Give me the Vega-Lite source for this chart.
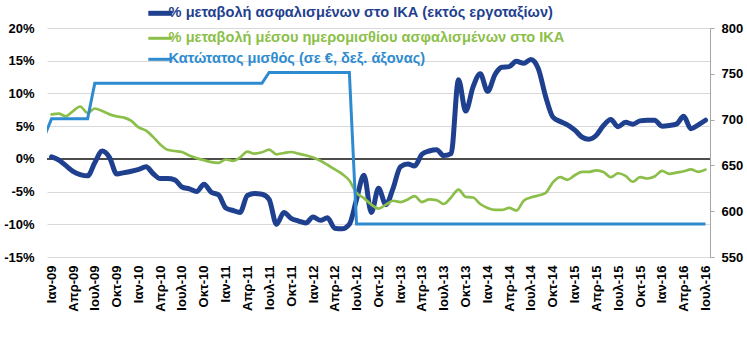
{
  "$schema": "https://vega.github.io/schema/vega-lite/v6.json",
  "width": 663,
  "height": 229,
  "autosize": "none",
  "padding": {"left": 47, "top": 28, "right": 37, "bottom": 97},
  "background": "white",
  "config": {"font": "Liberation Sans", "view": {"stroke": null}},
  "data": {"values": [
    {"d": "2008-12-01", "m": 681},
    {"d": "2009-01-01", "a": 0.3, "b": 6.8, "m": 701},
    {"d": "2009-02-01", "a": -0.2, "b": 6.9, "m": 701},
    {"d": "2009-03-01", "a": -1.0, "b": 6.5, "m": 701},
    {"d": "2009-04-01", "a": -1.9, "b": 7.3, "m": 701},
    {"d": "2009-05-01", "a": -2.4, "b": 8.0, "m": 701},
    {"d": "2009-06-01", "a": -2.6, "b": 7.0, "m": 701},
    {"d": "2009-07-01", "a": -0.6, "b": 7.7, "m": 739.56},
    {"d": "2009-08-01", "a": 1.2, "b": 7.3, "m": 739.56},
    {"d": "2009-09-01", "a": 0.2, "b": 6.8, "m": 739.56},
    {"d": "2009-10-01", "a": -2.3, "b": 6.5, "m": 739.56},
    {"d": "2009-11-01", "a": -2.1, "b": 6.3, "m": 739.56},
    {"d": "2009-12-01", "a": -1.9, "b": 5.8, "m": 739.56},
    {"d": "2010-01-01", "a": -1.6, "b": 4.8, "m": 739.56},
    {"d": "2010-02-01", "a": -1.2, "b": 4.3, "m": 739.56},
    {"d": "2010-03-01", "a": -2.2, "b": 3.4, "m": 739.56},
    {"d": "2010-04-01", "a": -3.0, "b": 2.2, "m": 739.56},
    {"d": "2010-05-01", "a": -3.0, "b": 1.4, "m": 739.56},
    {"d": "2010-06-01", "a": -3.2, "b": 1.2, "m": 739.56},
    {"d": "2010-07-01", "a": -4.3, "b": 1.05, "m": 739.56},
    {"d": "2010-08-01", "a": -4.6, "b": 0.5, "m": 739.56},
    {"d": "2010-09-01", "a": -5.0, "b": 0.1, "m": 739.56},
    {"d": "2010-10-01", "a": -3.9, "b": -0.2, "m": 739.56},
    {"d": "2010-11-01", "a": -5.1, "b": -0.5, "m": 739.56},
    {"d": "2010-12-01", "a": -5.5, "b": -0.6, "m": 739.56},
    {"d": "2011-01-01", "a": -7.5, "b": -0.1, "m": 739.56},
    {"d": "2011-02-01", "a": -7.9, "b": -0.3, "m": 739.56},
    {"d": "2011-03-01", "a": -8.2, "b": 0.2, "m": 739.56},
    {"d": "2011-04-01", "a": -5.6, "b": 1.1, "m": 739.56},
    {"d": "2011-05-01", "a": -5.3, "b": 0.8, "m": 739.56},
    {"d": "2011-06-01", "a": -5.4, "b": 1.0, "m": 739.56},
    {"d": "2011-07-01", "a": -6.2, "b": 1.4, "m": 751.39},
    {"d": "2011-08-01", "a": -10.0, "b": 0.7, "m": 751.39},
    {"d": "2011-09-01", "a": -8.2, "b": 0.9, "m": 751.39},
    {"d": "2011-10-01", "a": -9.1, "b": 1.05, "m": 751.39},
    {"d": "2011-11-01", "a": -9.5, "b": 0.8, "m": 751.39},
    {"d": "2011-12-01", "a": -9.8, "b": 0.55, "m": 751.39},
    {"d": "2012-01-01", "a": -8.9, "b": 0.2, "m": 751.39},
    {"d": "2012-02-01", "a": -9.4, "b": -0.3, "m": 751.39},
    {"d": "2012-03-01", "a": -9.0, "b": -0.9, "m": 751.39},
    {"d": "2012-04-01", "a": -10.6, "b": -1.6, "m": 751.39},
    {"d": "2012-05-01", "a": -10.7, "b": -2.3, "m": 751.39},
    {"d": "2012-06-01", "a": -10.0, "b": -3.3, "m": 751.39},
    {"d": "2012-07-01", "a": -6.2, "b": -5.2, "m": 586.08},
    {"d": "2012-08-01", "a": -2.5, "b": -6.0, "m": 586.08},
    {"d": "2012-09-01", "a": -8.2, "b": -7.0, "m": 586.08},
    {"d": "2012-10-01", "a": -4.5, "b": -7.6, "m": 586.08},
    {"d": "2012-11-01", "a": -7.0, "b": -7.0, "m": 586.08},
    {"d": "2012-12-01", "a": -4.5, "b": -6.4, "m": 586.08},
    {"d": "2013-01-01", "a": -1.2, "b": -6.6, "m": 586.08},
    {"d": "2013-02-01", "a": -0.8, "b": -6.2, "m": 586.08},
    {"d": "2013-03-01", "a": -1.1, "b": -5.7, "m": 586.08},
    {"d": "2013-04-01", "a": 0.7, "b": -6.6, "m": 586.08},
    {"d": "2013-05-01", "a": 1.2, "b": -6.2, "m": 586.08},
    {"d": "2013-06-01", "a": 1.4, "b": -6.3, "m": 586.08},
    {"d": "2013-07-01", "a": 0.5, "b": -6.9, "m": 586.08},
    {"d": "2013-08-01", "a": 0.8, "b": -5.9, "m": 586.08},
    {"d": "2013-09-01", "a": 12.1, "b": -4.7, "m": 586.08},
    {"d": "2013-10-01", "a": 7.3, "b": -5.8, "m": 586.08},
    {"d": "2013-11-01", "a": 11.0, "b": -5.9, "m": 586.08},
    {"d": "2013-12-01", "a": 13.0, "b": -6.9, "m": 586.08},
    {"d": "2014-01-01", "a": 10.3, "b": -7.5, "m": 586.08},
    {"d": "2014-02-01", "a": 12.9, "b": -7.8, "m": 586.08},
    {"d": "2014-03-01", "a": 14.0, "b": -7.8, "m": 586.08},
    {"d": "2014-04-01", "a": 14.1, "b": -7.5, "m": 586.08},
    {"d": "2014-05-01", "a": 14.9, "b": -7.9, "m": 586.08},
    {"d": "2014-06-01", "a": 14.6, "b": -6.4, "m": 586.08},
    {"d": "2014-07-01", "a": 15.2, "b": -5.9, "m": 586.08},
    {"d": "2014-08-01", "a": 13.8, "b": -5.6, "m": 586.08},
    {"d": "2014-09-01", "a": 9.5, "b": -5.2, "m": 586.08},
    {"d": "2014-10-01", "a": 6.4, "b": -3.6, "m": 586.08},
    {"d": "2014-11-01", "a": 5.7, "b": -2.8, "m": 586.08},
    {"d": "2014-12-01", "a": 5.2, "b": -3.2, "m": 586.08},
    {"d": "2015-01-01", "a": 4.4, "b": -2.5, "m": 586.08},
    {"d": "2015-02-01", "a": 3.3, "b": -2.0, "m": 586.08},
    {"d": "2015-03-01", "a": 3.0, "b": -2.0, "m": 586.08},
    {"d": "2015-04-01", "a": 3.6, "b": -1.75, "m": 586.08},
    {"d": "2015-05-01", "a": 5.1, "b": -2.0, "m": 586.08},
    {"d": "2015-06-01", "a": 6.0, "b": -2.8, "m": 586.08},
    {"d": "2015-07-01", "a": 4.9, "b": -2.2, "m": 586.08},
    {"d": "2015-08-01", "a": 5.6, "b": -2.6, "m": 586.08},
    {"d": "2015-09-01", "a": 5.3, "b": -3.5, "m": 586.08},
    {"d": "2015-10-01", "a": 5.8, "b": -2.8, "m": 586.08},
    {"d": "2015-11-01", "a": 5.9, "b": -3.0, "m": 586.08},
    {"d": "2015-12-01", "a": 5.9, "b": -2.7, "m": 586.08},
    {"d": "2016-01-01", "a": 5.0, "b": -1.85, "m": 586.08},
    {"d": "2016-02-01", "a": 5.1, "b": -2.3, "m": 586.08},
    {"d": "2016-03-01", "a": 5.3, "b": -2.1, "m": 586.08},
    {"d": "2016-04-01", "a": 6.5, "b": -1.9, "m": 586.08},
    {"d": "2016-05-01", "a": 4.6, "b": -1.6, "m": 586.08},
    {"d": "2016-06-01", "a": 5.2, "b": -2.0, "m": 586.08},
    {"d": "2016-07-01", "a": 5.9, "b": -1.65, "m": 586.08}
  ]},
  "layer": [
    {
      "mark": {"type": "rule", "color": "#4D4D4D", "strokeWidth": 1.5},
      "encoding": {
        "y": {"datum": 0, "type": "quantitative", "scale": {"domain": [-15, 20], "nice": false, "zero": false}, "axis": null}
      }
    },
    {
      "mark": {"type": "line", "strokeWidth": 5, "strokeCap": "round", "strokeJoin": "round", "interpolate": "monotone", "clip": true},
      "encoding": {
        "x": {"field": "d", "type": "temporal",
          "scale": {"type": "utc", "domain": [{"year": 2008, "month": 12, "date": 13, "utc": true}, {"year": 2016, "month": 7, "date": 20, "utc": true}]},
          "axis": {"title": null, "tickCount": {"interval": "month", "step": 3},
            "labelExpr": "['Ιαν','Απρ','Ιουλ','Οκτ'][floor(utcmonth(datum.value)/3)] + '-' + utcFormat(datum.value, '%y')",
            "labelAngle": 270, "labelFontSize": 13, "labelFontWeight": "bold", "labelColor": "#000000", "labelPadding": 8,
            "domain": false, "ticks": false, "grid": false, "labelOverlap": false, "labelFlush": false, "labelBound": false}},
        "y": {"field": "a", "type": "quantitative", "scale": {"domain": [-15, 20], "nice": false, "zero": false},
          "axis": {"orient": "left", "title": null, "values": [-15, -10, -5, 0, 5, 10, 15, 20], "labelExpr": "datum.value + '%'",
            "domain": false, "ticks": false, "grid": true, "gridColor": "#D9D9D9", "gridWidth": 1,
            "labelFontSize": 13, "labelFontWeight": "bold", "labelColor": "#000000", "labelPadding": 13, "labelFlush": false}},
        "color": {"datum": "a", "scale": {"domain": ["a", "b", "m"], "range": ["#1F3F8F", "#8CBF4A", "#2E8BCF"]},
          "legend": {"orient": "none", "legendX": 106, "legendY": -22, "direction": "vertical", "title": null,
            "symbolType": "stroke", "symbolSize": 576, "symbolStrokeWidth": {"expr": "datum.value == 'a' ? 5 : 3"},
            "labelExpr": "datum.value == 'a' ? '% μεταβολή ασφαλισμένων στο ΙΚΑ (εκτός εργοταξίων)' : datum.value == 'b' ? '% μεταβολή μέσου ημερομισθίου ασφαλισμένων στο ΙΚΑ' : 'Κατώτατος μισθός (σε €, δεξ. άξονας)'",
            "labelColor": {"expr": "datum.value == 'a' ? '#1F3F8F' : datum.value == 'b' ? '#8CBF4A' : '#2E8BCF'"},
            "labelFontSize": 14.6, "labelFontWeight": "bold", "labelOffset": 1, "rowPadding": 6, "padding": 0, "labelLimit": 0}}
      }
    },
    {
      "mark": {"type": "line", "strokeWidth": 2.7, "strokeCap": "round", "strokeJoin": "round", "interpolate": "monotone", "clip": true},
      "encoding": {
        "x": {"field": "d", "type": "temporal",
          "scale": {"type": "utc", "domain": [{"year": 2008, "month": 12, "date": 13, "utc": true}, {"year": 2016, "month": 7, "date": 20, "utc": true}]},
          "axis": {"title": null, "tickCount": {"interval": "month", "step": 3},
            "labelExpr": "['Ιαν','Απρ','Ιουλ','Οκτ'][floor(utcmonth(datum.value)/3)] + '-' + utcFormat(datum.value, '%y')",
            "labelAngle": 270, "labelFontSize": 13, "labelFontWeight": "bold", "labelColor": "#000000", "labelPadding": 8,
            "domain": false, "ticks": false, "grid": false, "labelOverlap": false, "labelFlush": false, "labelBound": false}},
        "y": {"field": "b", "type": "quantitative", "scale": {"domain": [-15, 20], "nice": false, "zero": false}, "axis": null},
        "color": {"datum": "b", "scale": {"domain": ["a", "b", "m"], "range": ["#1F3F8F", "#8CBF4A", "#2E8BCF"]},
          "legend": {"orient": "none", "legendX": 106, "legendY": -22, "direction": "vertical", "title": null,
            "symbolType": "stroke", "symbolSize": 576, "symbolStrokeWidth": {"expr": "datum.value == 'a' ? 5 : 3"},
            "labelExpr": "datum.value == 'a' ? '% μεταβολή ασφαλισμένων στο ΙΚΑ (εκτός εργοταξίων)' : datum.value == 'b' ? '% μεταβολή μέσου ημερομισθίου ασφαλισμένων στο ΙΚΑ' : 'Κατώτατος μισθός (σε €, δεξ. άξονας)'",
            "labelColor": {"expr": "datum.value == 'a' ? '#1F3F8F' : datum.value == 'b' ? '#8CBF4A' : '#2E8BCF'"},
            "labelFontSize": 14.6, "labelFontWeight": "bold", "labelOffset": 1, "rowPadding": 6, "padding": 0, "labelLimit": 0}}
      }
    },
    {
      "mark": {"type": "line", "strokeWidth": 3, "strokeJoin": "miter", "clip": true},
      "encoding": {
        "x": {"field": "d", "type": "temporal",
          "scale": {"type": "utc", "domain": [{"year": 2008, "month": 12, "date": 13, "utc": true}, {"year": 2016, "month": 7, "date": 20, "utc": true}]},
          "axis": {"title": null, "tickCount": {"interval": "month", "step": 3},
            "labelExpr": "['Ιαν','Απρ','Ιουλ','Οκτ'][floor(utcmonth(datum.value)/3)] + '-' + utcFormat(datum.value, '%y')",
            "labelAngle": 270, "labelFontSize": 13, "labelFontWeight": "bold", "labelColor": "#000000", "labelPadding": 8,
            "domain": false, "ticks": false, "grid": false, "labelOverlap": false, "labelFlush": false, "labelBound": false}},
        "y": {"field": "m", "type": "quantitative", "scale": {"domain": [550, 800], "nice": false, "zero": false},
          "axis": {"orient": "right", "title": null, "values": [550, 600, 650, 700, 750, 800],
            "domain": true, "domainColor": "#A6A6A6", "ticks": true, "tickColor": "#A6A6A6", "tickSize": 4, "grid": false,
            "labelFontSize": 13, "labelFontWeight": "bold", "labelColor": "#000000", "labelPadding": 7, "labelFlush": false}},
        "color": {"datum": "m", "scale": {"domain": ["a", "b", "m"], "range": ["#1F3F8F", "#8CBF4A", "#2E8BCF"]},
          "legend": {"orient": "none", "legendX": 106, "legendY": -22, "direction": "vertical", "title": null,
            "symbolType": "stroke", "symbolSize": 576, "symbolStrokeWidth": {"expr": "datum.value == 'a' ? 5 : 3"},
            "labelExpr": "datum.value == 'a' ? '% μεταβολή ασφαλισμένων στο ΙΚΑ (εκτός εργοταξίων)' : datum.value == 'b' ? '% μεταβολή μέσου ημερομισθίου ασφαλισμένων στο ΙΚΑ' : 'Κατώτατος μισθός (σε €, δεξ. άξονας)'",
            "labelColor": {"expr": "datum.value == 'a' ? '#1F3F8F' : datum.value == 'b' ? '#8CBF4A' : '#2E8BCF'"},
            "labelFontSize": 14.6, "labelFontWeight": "bold", "labelOffset": 1, "rowPadding": 6, "padding": 0, "labelLimit": 0}}
      }
    }
  ],
  "resolve": {"scale": {"y": "independent"}}
}
